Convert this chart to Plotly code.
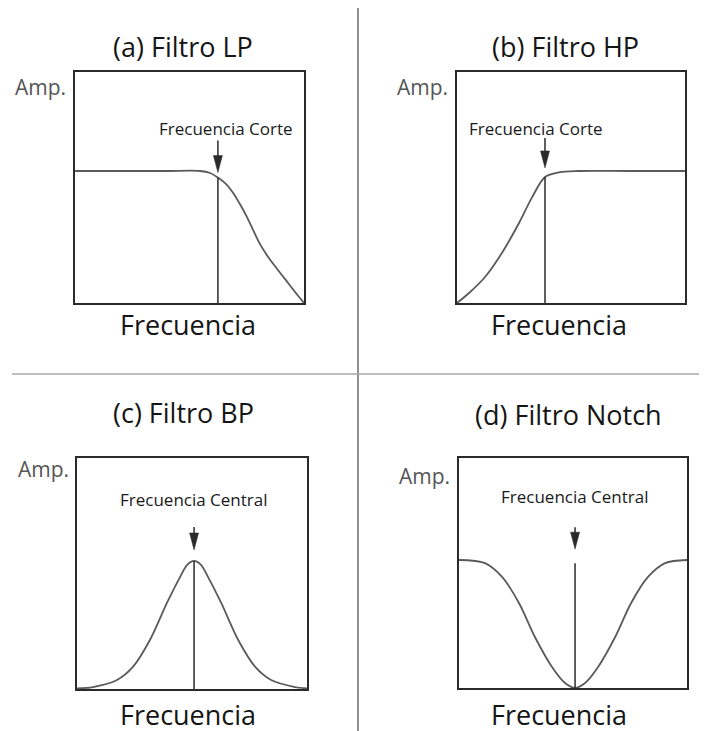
import plotly.graph_objects as go

# ---- data: amplitude responses of four ideal-ish filters (frequency 0..10, amplitude 0..1.75)
freq_lp = [0, 2, 4, 5.46, 5.9, 6.24, 6.6, 6.9, 7.2, 7.5, 7.8, 8.1, 8.45, 8.82, 9.2, 9.6, 10]
amp_lp = [1.0, 1.0, 1.0, 1.0, 0.985, 0.95, 0.90, 0.835, 0.75, 0.655, 0.545, 0.44, 0.345,
          0.26, 0.175, 0.085, 0.0]

freq_hp = [0, 0.53, 1.23, 1.97, 2.72, 3.29, 3.86, 4.47, 5.35, 7.5, 10]
amp_hp = [0.0, 0.076, 0.197, 0.379, 0.606, 0.80, 0.955, 0.99, 1.0, 1.0, 1.0]

freq_bp = [0, 0.70, 1.74, 2.43, 3.17, 3.91, 4.48, 4.79, 5.09, 5.39, 5.70, 6.27, 7.01, 7.75,
           8.44, 9.48, 10]
amp_bp = [0.005, 0.015, 0.068, 0.167, 0.371, 0.652, 0.848, 0.94, 0.97, 0.94, 0.848, 0.652,
          0.371, 0.167, 0.068, 0.015, 0.005]

freq_notch = [0, 1.14, 1.89, 2.63, 3.33, 4.08, 4.65, 5.09, 5.53, 6.10, 6.85, 7.55, 8.29, 9.04, 10]
amp_notch = [0.974, 0.95, 0.845, 0.647, 0.388, 0.16, 0.038, 0.0, 0.038, 0.16, 0.388, 0.647,
             0.845, 0.95, 0.974]

# marker line: frequency and the amplitude where the marker line ends
cutoff_lp, cutoff_lp_amp = 6.24, 0.95
cutoff_hp, cutoff_hp_amp = 3.86, 0.955
center_bp, center_bp_amp = 5.09, 0.97
center_notch, center_notch_amp = 5.09, 0.95

titles = ["(a) Filtro LP", "(b) Filtro HP", "(c) Filtro BP", "(d) Filtro Notch"]
marker_labels = ["Frecuencia Corte", "Frecuencia Corte", "Frecuencia Central", "Frecuencia Central"]
x_label = "Frecuencia"
y_label = "Amp."

W, H = 704, 731
FONT = "Open Sans"
CURVE = "#5a5a5a"
DARK = "#2a2a2a"


def px(x):
    return x / W


def py(y):
    return 1 - y / H


panels = [
    dict(freq=freq_lp, amp=amp_lp, fc=cutoff_lp, fa=cutoff_lp_amp,
         box=(75, 304, 72, 303), title=(183, 46), xl=(188, 324), yl=(40, 87),
         ml=(226, 128), tip=5, top=37),
    dict(freq=freq_hp, amp=amp_hp, fc=cutoff_hp, fa=cutoff_hp_amp,
         box=(457, 685, 72, 303), title=(565, 46), xl=(559, 324), yl=(422, 87),
         ml=(536, 128), tip=9, top=39),
    dict(freq=freq_bp, amp=amp_bp, fc=center_bp, fa=center_bp_amp,
         box=(77, 307, 458, 689), title=(183, 412), xl=(188, 714), yl=(43, 469),
         ml=(194, 499), tip=11, top=34),
    dict(freq=freq_notch, amp=amp_notch, fc=center_notch, fa=center_notch_amp,
         box=(459, 687, 458, 688), title=(568, 414), xl=(559, 714), yl=(424, 476),
         ml=(575, 496), tip=14, top=36),
]

fig = go.Figure()
annotations = []
shapes = []

for i, p in enumerate(panels, start=1):
    sfx = "" if i == 1 else str(i)
    xa, ya = "x" + sfx, "y" + sfx
    x0, x1, y0, y1 = p["box"]

    fig.add_trace(go.Scatter(
        x=p["freq"], y=p["amp"], xaxis=xa, yaxis=ya, mode="lines",
        line=dict(color=CURVE, width=1.8, shape="spline", smoothing=0.9),
        hoverinfo="skip", showlegend=False))
    fig.add_trace(go.Scatter(
        x=[p["fc"], p["fc"]], y=[0, p["fa"]], xaxis=xa, yaxis=ya, mode="lines",
        line=dict(color=DARK, width=1.5), hoverinfo="skip", showlegend=False))

    axis_style = dict(showgrid=False, zeroline=False, showticklabels=False, ticks="",
                      showline=True, linecolor=DARK, linewidth=2, mirror=True,
                      fixedrange=True)
    fig.layout["xaxis" + sfx] = dict(axis_style, domain=[px(x0), px(x1)], range=[0, 10],
                                    anchor=ya)
    fig.layout["yaxis" + sfx] = dict(axis_style, domain=[py(y1), py(y0)], range=[0, 1.75],
                                    anchor=xa)

    # arrow pointing at the marker frequency: shaft + narrow filled head
    head = 17
    shapes.append(dict(type="line", xref=xa, yref=ya, xsizemode="pixel", ysizemode="pixel",
                       xanchor=p["fc"], yanchor=p["fa"], x0=0, x1=0,
                       y0=p["tip"] + head - 2, y1=p["top"],
                       line=dict(color=DARK, width=1.5)))
    shapes.append(dict(type="path", xref=xa, yref=ya, xsizemode="pixel", ysizemode="pixel",
                       xanchor=p["fc"], yanchor=p["fa"],
                       path=f"M -4.5,{p['tip'] + head} L 4.5,{p['tip'] + head} L 0,{p['tip']} Z",
                       fillcolor=DARK, line=dict(color=DARK, width=0.5)))

    annotations.append(dict(text=titles[i - 1], xref="paper", yref="paper",
                            x=px(p["title"][0]), y=py(p["title"][1]),
                            xanchor="center", yanchor="middle", showarrow=False,
                            font=dict(family=FONT, size=27, color="#151515")))
    annotations.append(dict(text=x_label, xref="paper", yref="paper",
                            x=px(p["xl"][0]), y=py(p["xl"][1]),
                            xanchor="center", yanchor="middle", showarrow=False, height=30,
                            font=dict(family=FONT, size=27, color="#151515")))
    annotations.append(dict(text=y_label, xref="paper", yref="paper",
                            x=px(p["yl"][0]), y=py(p["yl"][1]),
                            xanchor="center", yanchor="middle", showarrow=False,
                            font=dict(family=FONT, size=21, color="#555555")))
    annotations.append(dict(text=marker_labels[i - 1], xref="paper", yref="paper",
                            x=px(p["ml"][0]), y=py(p["ml"][1]),
                            xanchor="center", yanchor="middle", showarrow=False,
                            font=dict(family=FONT, size=17, color="#1a1a1a")))

# quadrant dividers
shapes.append(dict(type="line", xref="paper", yref="paper",
                   x0=px(358), x1=px(358), y0=py(8), y1=py(731),
                   line=dict(color="#6a6a6a", width=1.5)))
shapes.append(dict(type="line", xref="paper", yref="paper",
                   x0=px(12), x1=px(699), y0=py(374), y1=py(374),
                   line=dict(color="#a8a8a8", width=1.5)))

fig.update_layout(width=W, height=H, margin=dict(l=0, r=0, t=0, b=0),
                  paper_bgcolor="white", plot_bgcolor="white",
                  annotations=annotations, shapes=shapes, showlegend=False)

fig.write_html("out.html", config={"displayModeBar": False})
